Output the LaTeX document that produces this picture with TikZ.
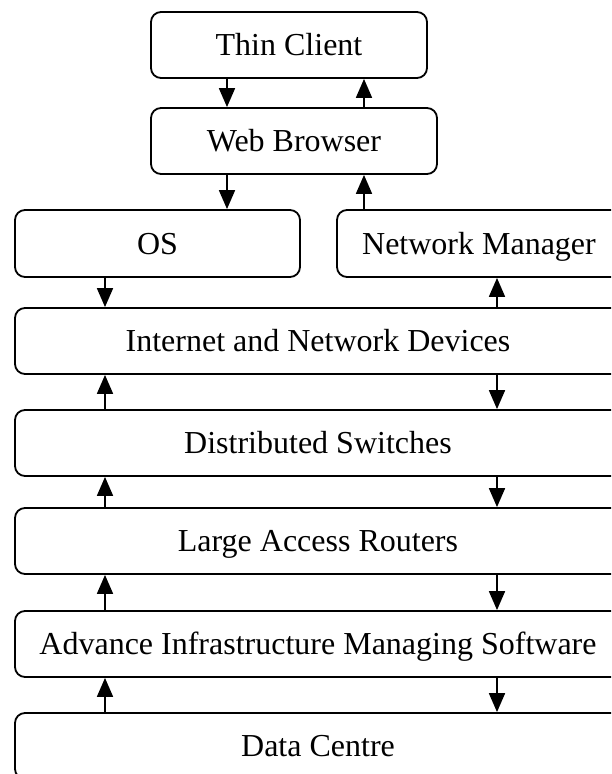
\documentclass[tikz,border=0pt]{standalone}
\usepackage{fontspec}
\setmainfont{Liberation Serif}
\usetikzlibrary{arrows.meta}
\begin{document}
\begin{tikzpicture}[x=1pt,y=-1pt,
  layerbox/.style={draw, line width=1.8pt, rounded corners=10pt, rectangle,
    inner sep=0pt, minimum height=66pt, text height=21pt, text depth=0pt,
    font=\fontsize{32}{38}\selectfont},
  arr/.style={line width=1.8pt, -{Triangle[length=19pt,width=16pt]}}]
\useasboundingbox (0,0) rectangle (611,774);
\clip (0,0) rectangle (611,774);
\node[layerbox, minimum width=276pt] (tc) at (289,45) {Thin Client};
\node[layerbox, minimum width=286pt] (wb) at (294,141) {Web Browser};
\node[layerbox, minimum width=285pt, minimum height=67pt] (os) at (157.5,243.5) {OS};
\node[layerbox, minimum width=284pt, minimum height=67pt] (nm) at (479,243.5) {Network Manager};
\node[layerbox, minimum width=606pt] (inet) at (318,341) {Internet and Network Devices};
\node[layerbox, minimum width=606pt] (ds) at (318,443) {Distributed Switches};
\node[layerbox, minimum width=606pt] (lar) at (318,541) {Large Access Routers};
\node[layerbox, minimum width=606pt] (aims) at (318,644) {Advance Infrastructure Managing Software};
\node[layerbox, minimum width=606pt] (dc) at (318,746) {Data Centre};
\coordinate (xa) at (227,0);
\coordinate (xb) at (364,0);
\coordinate (xc) at (105,0);
\coordinate (xd) at (497,0);
\draw[arr] (tc.south -| xa) -- (wb.north -| xa);
\draw[arr] (wb.north -| xb) -- (tc.south -| xb);
\draw[arr] (wb.south -| xa) -- (os.north -| xa);
\draw[arr] (nm.north -| xb) -- (wb.south -| xb);
\draw[arr] (os.south -| xc) -- (inet.north -| xc);
\draw[arr] (inet.north -| xd) -- (nm.south -| xd);
\draw[arr] (ds.north -| xc) -- (inet.south -| xc);
\draw[arr] (inet.south -| xd) -- (ds.north -| xd);
\draw[arr] (lar.north -| xc) -- (ds.south -| xc);
\draw[arr] (ds.south -| xd) -- (lar.north -| xd);
\draw[arr] (aims.north -| xc) -- (lar.south -| xc);
\draw[arr] (lar.south -| xd) -- (aims.north -| xd);
\draw[arr] (dc.north -| xc) -- (aims.south -| xc);
\draw[arr] (aims.south -| xd) -- (dc.north -| xd);
\end{tikzpicture}
\end{document}
